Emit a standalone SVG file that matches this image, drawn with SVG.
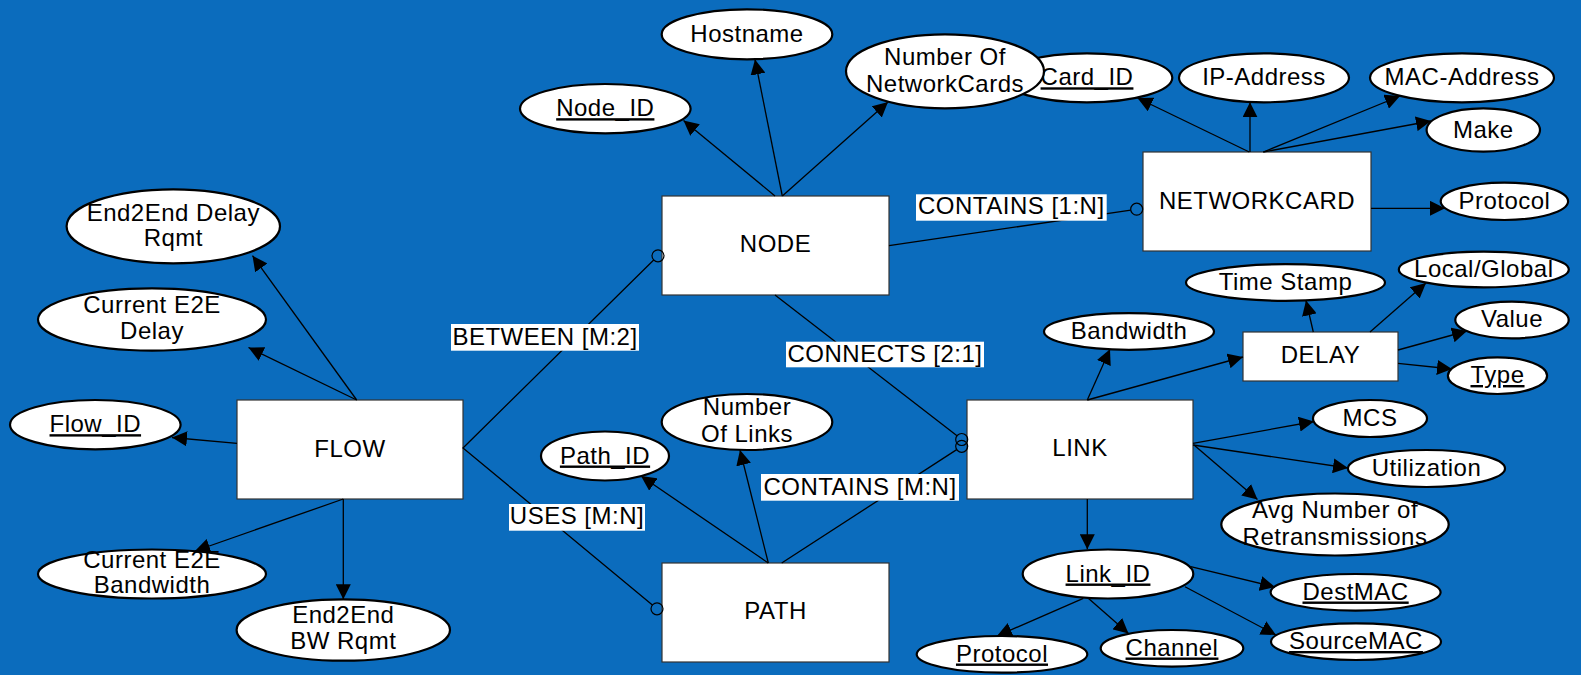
<svg xmlns="http://www.w3.org/2000/svg" width="1581" height="675" viewBox="0 0 1581 675">
<style>
.ent{fill:#fff;stroke:#333;stroke-width:1.2}
.att{fill:#fff;stroke:#000;stroke-width:2.2}
text{font-family:"Liberation Sans",Arial,sans-serif;font-size:24px;letter-spacing:0.5px;fill:#000;text-anchor:middle}
.u{text-decoration:underline}
.ln{stroke:#000;stroke-width:1.3;fill:none}
.ar{stroke:#000;stroke-width:1.3;fill:none;marker-end:url(#arr)}
.opt{fill:none;stroke:#000;stroke-width:1.2}
.lbl{fill:#fff;stroke:none}
</style>
<defs>
<marker id="arr" viewBox="0 0 15 15" refX="15" refY="7.5" markerWidth="15" markerHeight="15" orient="auto" markerUnits="userSpaceOnUse"><path d="M0,0 L15,7.5 L0,15 z" fill="#000"/></marker>
</defs>
<rect x="0" y="0" width="1581" height="675" fill="#0B6CBD"/>

<g id="node-NODE"><rect class="ent" x="662" y="196" width="227" height="99"/><text x="775.5" y="251.7">NODE</text></g>
<g id="node-NETWORKCARD"><rect class="ent" x="1143" y="152" width="228" height="99"/><text x="1257" y="209.3">NETWORKCARD</text></g>
<g id="node-FLOW"><rect class="ent" x="237" y="400" width="226" height="99"/><text x="350" y="456.7">FLOW</text></g>
<g id="node-LINK"><rect class="ent" x="967" y="400" width="226" height="99"/><text x="1080" y="456">LINK</text></g>
<g id="node-PATH"><rect class="ent" x="662" y="563" width="227" height="99"/><text x="775.5" y="619.3">PATH</text></g>
<g id="node-DELAY"><rect class="ent" x="1243" y="332" width="155" height="49"/><text x="1320.5" y="363.3">DELAY</text></g>

<g id="attr-Hostname"><ellipse class="att" cx="747" cy="34.3" rx="85.3" ry="25"/><text x="747" y="41.8">Hostname</text></g>
<g id="attr-Node_ID"><ellipse class="att" cx="605.3" cy="108.7" rx="85.3" ry="24.7"/><text class="u" x="605.3" y="116.2">Node_ID</text></g>
<g id="attr-Card_ID"><ellipse class="att" cx="1087" cy="77.8" rx="85.3" ry="24.5"/><text class="u" x="1087" y="85.3">Card_ID</text></g>
<g id="attr-NumberOfNetworkCards"><ellipse class="att" cx="945" cy="71.3" rx="99" ry="37"/><text x="945" y="65"><tspan x="945" y="65">Number Of</tspan><tspan x="945" y="91.5">NetworkCards</tspan></text></g>
<g id="attr-IP-Address"><ellipse class="att" cx="1264" cy="77.8" rx="85" ry="24.5"/><text x="1264" y="85.3">IP-Address</text></g>
<g id="attr-MAC-Address"><ellipse class="att" cx="1462" cy="77.8" rx="92" ry="24.5"/><text x="1462" y="85.3">MAC-Address</text></g>
<g id="attr-Make"><ellipse class="att" cx="1483.3" cy="130" rx="56.7" ry="21.7"/><text x="1483.3" y="137.5">Make</text></g>
<g id="attr-Protocol-NC"><ellipse class="att" cx="1504.4" cy="201.3" rx="63.7" ry="18.7"/><text x="1504.4" y="208.5">Protocol</text></g>
<g id="attr-TimeStamp"><ellipse class="att" cx="1285.5" cy="282.5" rx="99.5" ry="18.3"/><text x="1285.5" y="290">Time Stamp</text></g>
<g id="attr-LocalGlobal"><ellipse class="att" cx="1483.8" cy="269.5" rx="85" ry="17.8"/><text x="1483.8" y="277">Local/Global</text></g>
<g id="attr-Value"><ellipse class="att" cx="1512" cy="320" rx="56.7" ry="18.3"/><text x="1512" y="327.3">Value</text></g>
<g id="attr-Type"><ellipse class="att" cx="1497.5" cy="375.7" rx="49.6" ry="18.3"/><text class="u" x="1497.5" y="383">Type</text></g>
<g id="attr-Bandwidth"><ellipse class="att" cx="1129" cy="331.5" rx="85" ry="18.3"/><text x="1129" y="338.5">Bandwidth</text></g>
<g id="attr-MCS"><ellipse class="att" cx="1370" cy="418.5" rx="57" ry="18.5"/><text x="1370" y="425.5">MCS</text></g>
<g id="attr-Utilization"><ellipse class="att" cx="1426.5" cy="468.5" rx="78.5" ry="18.5"/><text x="1426.5" y="475.5">Utilization</text></g>
<g id="attr-AvgRetx"><ellipse class="att" cx="1335" cy="524.5" rx="113.7" ry="31"/><text x="1335" y="518.3"><tspan x="1335" y="518.3">Avg Number of</tspan><tspan x="1335" y="545">Retransmissions</tspan></text></g>
<g id="attr-Link_ID"><ellipse class="att" cx="1108" cy="574" rx="85.3" ry="24.5"/><text class="u" x="1108" y="581.5">Link_ID</text></g>
<g id="attr-DestMAC"><ellipse class="att" cx="1355.6" cy="592.3" rx="85" ry="18.3"/><text class="u" x="1355.6" y="599.5">DestMAC</text></g>
<g id="attr-SourceMAC"><ellipse class="att" cx="1356" cy="641.7" rx="85" ry="18.3"/><text class="u" x="1356" y="649">SourceMAC</text></g>
<g id="attr-Protocol-Link"><ellipse class="att" cx="1002" cy="654.3" rx="85.3" ry="18.3"/><text class="u" x="1002" y="661.5">Protocol</text></g>
<g id="attr-Channel"><ellipse class="att" cx="1172" cy="648.3" rx="71.3" ry="18.3"/><text class="u" x="1172" y="655.5">Channel</text></g>
<g id="attr-Path_ID"><ellipse class="att" cx="605" cy="456" rx="64" ry="24.5"/><text class="u" x="605" y="463.5">Path_ID</text></g>
<g id="attr-NumberOfLinks"><ellipse class="att" cx="747" cy="422" rx="85.3" ry="28"/><text x="747" y="415"><tspan x="747" y="415">Number</tspan><tspan x="747" y="441.7">Of Links</tspan></text></g>
<g id="attr-E2EDelayRqmt"><ellipse class="att" cx="173.3" cy="226.3" rx="106.7" ry="37"/><text x="173.3" y="220.7"><tspan x="173.3" y="220.7">End2End Delay</tspan><tspan x="173.3" y="246">Rqmt</tspan></text></g>
<g id="attr-CurE2EDelay"><ellipse class="att" cx="152" cy="319.5" rx="114" ry="31.2"/><text x="152" y="313.3"><tspan x="152" y="313.3">Current E2E</tspan><tspan x="152" y="339.3">Delay</tspan></text></g>
<g id="attr-Flow_ID"><ellipse class="att" cx="95.3" cy="424.7" rx="85.3" ry="24.7"/><text class="u" x="95.3" y="432.2">Flow_ID</text></g>
<g id="attr-CurE2EBW"><ellipse class="att" cx="152" cy="574" rx="114" ry="24.5"/><text x="152" y="568.3"><tspan x="152" y="568.3">Current E2E</tspan><tspan x="152" y="593.3">Bandwidth</tspan></text></g>
<g id="attr-E2EBWRqmt"><ellipse class="att" cx="343.3" cy="630" rx="106.7" ry="30.7"/><text x="343.3" y="623.3"><tspan x="343.3" y="623.3">End2End</tspan><tspan x="343.3" y="649.3">BW Rqmt</tspan></text></g>

<g id="connectors">
<line class="ar" x1="775" y1="196" x2="683.5" y2="120.5"/>
<line class="ar" x1="782.3" y1="196" x2="755" y2="59.5"/>
<line class="ar" x1="782.3" y1="196" x2="888" y2="102"/>
<line class="ar" x1="1249.3" y1="152" x2="1137.5" y2="98"/>
<line class="ar" x1="1250" y1="152" x2="1250" y2="102.3"/>
<line class="ar" x1="1263.3" y1="152" x2="1400" y2="96"/>
<line class="ar" x1="1263.3" y1="152" x2="1431" y2="121"/>
<line class="ar" x1="1371" y1="208.3" x2="1445" y2="208.3"/>
<line class="ar" x1="1313.3" y1="332" x2="1306" y2="300.5"/>
<line class="ar" x1="1370" y1="332" x2="1426" y2="283"/>
<line class="ar" x1="1398" y1="350" x2="1467" y2="331"/>
<line class="ar" x1="1398" y1="363.3" x2="1452" y2="369"/>
<line class="ar" x1="1087.3" y1="400" x2="1110" y2="349.3"/>
<line class="ar" x1="1087.3" y1="400" x2="1243" y2="357"/>
<line class="ar" x1="1193" y1="443.3" x2="1314" y2="421.5"/>
<line class="ar" x1="1193" y1="445" x2="1348" y2="468"/>
<line class="ar" x1="1194" y1="445" x2="1257.5" y2="499.5"/>
<line class="ar" x1="1087.3" y1="499" x2="1087.3" y2="549.3"/>
<line class="ar" x1="1190.7" y1="566.7" x2="1275" y2="587"/>
<line class="ar" x1="1185" y1="586.7" x2="1276" y2="635"/>
<line class="ar" x1="1083.3" y1="598.3" x2="997" y2="636"/>
<line class="ar" x1="1088.3" y1="598.3" x2="1128.5" y2="633.5"/>
<line class="ar" x1="356.7" y1="400" x2="252.5" y2="255.7"/>
<line class="ar" x1="356.7" y1="400" x2="248.5" y2="347.5"/>
<line class="ar" x1="237" y1="443.3" x2="172" y2="437.5"/>
<line class="ar" x1="343.3" y1="499" x2="195" y2="551"/>
<line class="ar" x1="343.3" y1="499" x2="343.3" y2="599.3"/>
<line class="ar" x1="768.3" y1="563" x2="641" y2="476"/>
<line class="ar" x1="768.3" y1="563" x2="740" y2="450"/>

<polyline class="ln" points="653.7,260 463,448 652.4,605"/>
<line class="ln" x1="775" y1="295" x2="957" y2="435.8"/>
<line class="ln" x1="781.7" y1="563" x2="956.7" y2="449.6"/>
<line class="ln" x1="889" y1="245.7" x2="1130.8" y2="210.1"/>
<circle class="opt" cx="658" cy="255.8" r="6"/>
<circle class="opt" cx="657" cy="608.8" r="6"/>
<circle class="opt" cx="961.7" cy="439.5" r="6"/>
<circle class="opt" cx="961.7" cy="446.3" r="6"/>
<circle class="opt" cx="1136.7" cy="209.2" r="6"/>

<rect class="lbl" x="451" y="324" width="188" height="26.7"/><text x="545" y="344.5">BETWEEN [M:2]</text>
<rect class="lbl" x="509" y="504" width="136" height="26.7"/><text x="577" y="523.8">USES [M:N]</text>
<rect class="lbl" x="761" y="474" width="198" height="26.7"/><text x="860" y="494.7">CONTAINS [M:N]</text>
<rect class="lbl" x="786" y="341.7" width="198" height="25.6"/><text x="885" y="361.5">CONNECTS [2:1]</text>
<rect class="lbl" x="916" y="194.3" width="190.7" height="26.4"/><text x="1011.3" y="213.8">CONTAINS [1:N]</text>
</g>
</svg>
